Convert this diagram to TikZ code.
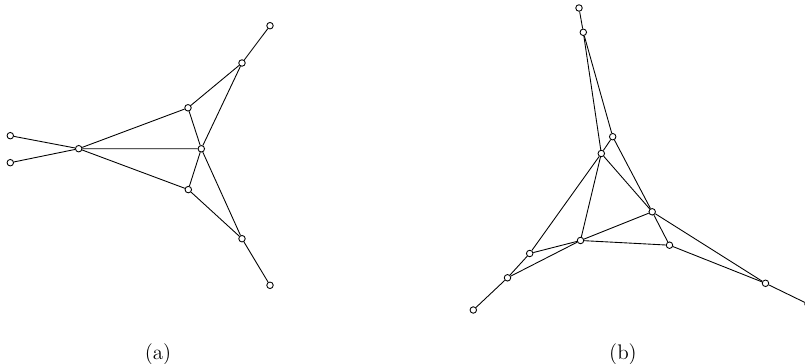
\documentclass[tikz,border=0pt]{standalone}
\usepackage{amsmath,amssymb}
\usepackage{tikz}
\usetikzlibrary{positioning}

\begin{document}
\begin{tikzpicture}[vtx/.style={circle, draw, fill=white, minimum size=1.3mm, inner sep=0pt, line width=0.5pt},edge/.style={line width=0.5pt},sublabel/.style={font=\large}]
\useasboundingbox (0,0) rectangle (16.1,7.28);
% (a)
\node[vtx] (a1) at (0.206,4.566) {};
\node[vtx] (a2) at (0.206,4.026) {};
\node[vtx] (ac) at (1.574,4.306) {};
\node[vtx] (au) at (3.760,5.124) {};
\node[vtx] (am) at (4.026,4.304) {};
\node[vtx] (ad) at (3.766,3.488) {};
\node[vtx] (aur) at (4.840,6.020) {};
\node[vtx] (adr) at (4.840,2.506) {};
\node[vtx] (atu) at (5.400,6.766) {};
\node[vtx] (atd) at (5.400,1.574) {};
\draw[edge] (a1) -- (ac); \draw[edge] (a2) -- (ac);
\draw[edge] (ac) -- (au); \draw[edge] (ac) -- (am); \draw[edge] (ac) -- (ad);
\draw[edge] (au) -- (aur); \draw[edge] (au) -- (am); \draw[edge] (am) -- (aur);
\draw[edge] (am) -- (ad); \draw[edge] (am) -- (adr); \draw[edge] (ad) -- (adr);
\draw[edge] (aur) -- (atu); \draw[edge] (adr) -- (atd);
\node[sublabel] (la) at (3.16,0.20) {(a)};
% (b)
\node[vtx] (b0) at (11.580,7.120) {};
\node[vtx] (b1) at (11.666,6.634) {};
\node[vtx] (ba) at (12.254,4.546) {};
\node[vtx] (bb) at (12.026,4.210) {};
\node[vtx] (bc) at (13.044,3.044) {};
\node[vtx] (bd) at (11.610,2.470) {};
\node[vtx] (be) at (13.390,2.376) {};
\node[vtx] (bf) at (10.594,2.210) {};
\node[vtx] (bg) at (10.150,1.724) {};
\node[vtx] (bh) at (9.466,1.080) {};
\node[vtx] (bi) at (15.310,1.614) {};
\node[vtx] (bj) at (16.160,1.200) {};
\draw[edge] (b0) -- (b1); \draw[edge] (b1) -- (bb); \draw[edge] (b1) -- (ba);
\draw[edge] (ba) -- (bb); \draw[edge] (ba) -- (bc); \draw[edge] (bc) -- (be);
\draw[edge] (bb) -- (bc); \draw[edge] (bb) -- (bf); \draw[edge] (bb) -- (bd);
\draw[edge] (bc) -- (bd); \draw[edge] (bc) -- (bi); \draw[edge] (bd) -- (be);
\draw[edge] (bd) -- (bf); \draw[edge] (bd) -- (bg); \draw[edge] (bf) -- (bg);
\draw[edge] (bg) -- (bh); \draw[edge] (be) -- (bi); \draw[edge] (bi) -- (bj);
\node[sublabel] (lb) at (12.46,0.20) {(b)};
\end{tikzpicture}
\end{document}
